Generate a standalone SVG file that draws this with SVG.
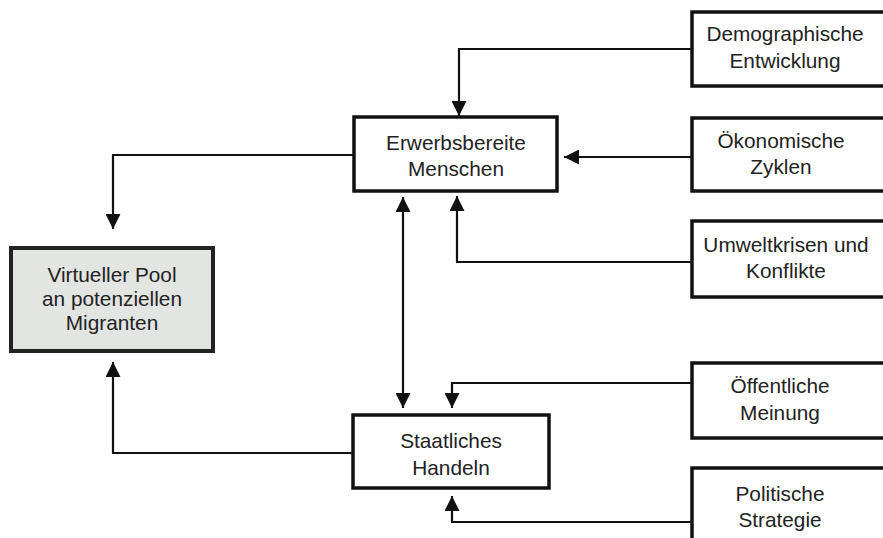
<svg xmlns="http://www.w3.org/2000/svg" width="883" height="538" viewBox="0 0 883 538">
<defs>
<marker id="ah" markerUnits="userSpaceOnUse" markerWidth="15" markerHeight="15" refX="15" refY="7.5" orient="auto-start-reverse" viewBox="0 0 15 15">
<path d="M0,0 L15,7.5 L0,15 z" fill="#111"/>
</marker>
<style>
.box{fill:#fff;stroke:#111;stroke-width:3.5}
.pool{fill:#e3e5e3;stroke:#222;stroke-width:4}
.t{font-family:"Liberation Sans",Arial,sans-serif;font-size:20.8px;fill:#222;text-anchor:middle}
.c{fill:none;stroke:#111;stroke-width:2.2}
</style>
</defs>
<rect width="883" height="538" fill="#fff"/>
<g id="connectors">
<path class="c" d="M692,49 H459 V116" marker-end="url(#ah)"/>
<path class="c" d="M692,157 H564" marker-end="url(#ah)"/>
<path class="c" d="M692,262 H457 V196" marker-end="url(#ah)"/>
<path class="c" d="M403,197 V408" marker-start="url(#ah)" marker-end="url(#ah)"/>
<path class="c" d="M692,383 H452 V408" marker-end="url(#ah)"/>
<path class="c" d="M692,522 H452 V496" marker-end="url(#ah)"/>
<path class="c" d="M353,155 H113 V229" marker-end="url(#ah)"/>
<path class="c" d="M352,453 H113 V362" marker-end="url(#ah)"/>
</g>
<g id="pool">
<rect class="pool" x="11" y="248" width="202" height="103"/>
<text class="t" x="112" y="282">Virtueller Pool</text>
<text class="t" x="112" y="306">an potenziellen</text>
<text class="t" x="112" y="330">Migranten</text>
</g>
<g id="erwerbsbereite">
<rect class="box" x="354" y="117" width="203" height="74"/>
<text class="t" x="456" y="150">Erwerbsbereite</text>
<text class="t" x="456" y="176">Menschen</text>
</g>
<g id="staatliches">
<rect class="box" x="353" y="415" width="196" height="73"/>
<text class="t" x="451" y="448">Staatliches</text>
<text class="t" x="451" y="475">Handeln</text>
</g>
<g id="demographische">
<rect class="box" x="692" y="12" width="200" height="74"/>
<text class="t" x="785" y="41">Demographische</text>
<text class="t" x="785" y="68">Entwicklung</text>
</g>
<g id="oekonomische">
<rect class="box" x="692" y="118" width="200" height="73"/>
<text class="t" x="781" y="148">Ökonomische</text>
<text class="t" x="781" y="174">Zyklen</text>
</g>
<g id="umweltkrisen">
<rect class="box" x="692" y="221" width="200" height="76"/>
<text class="t" x="786" y="252">Umweltkrisen und</text>
<text class="t" x="786" y="278">Konflikte</text>
</g>
<g id="oeffentliche">
<rect class="box" x="692" y="363" width="200" height="75"/>
<text class="t" x="780" y="393">Öffentliche</text>
<text class="t" x="780" y="420">Meinung</text>
</g>
<g id="politische">
<rect class="box" x="692" y="468" width="200" height="80"/>
<text class="t" x="780" y="501">Politische</text>
<text class="t" x="780" y="527">Strategie</text>
</g>
</svg>
